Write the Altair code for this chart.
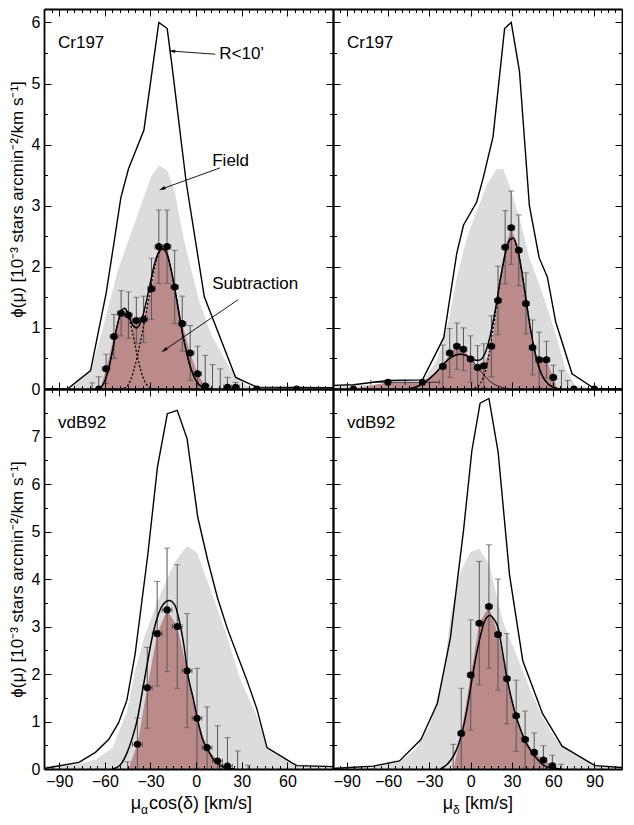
import altair as alt
import pandas as pd

FONT = "Liberation Sans"
W, H = 289, 380
GRAY = "#dcdcdc"
BROWN = "#bb8a8a"
YTITLE = "ϕ(μ) [10⁻³ stars arcmin⁻²/km s⁻¹]"

# ---------- Cr197, mu_alpha cos(delta) (top left) ----------
CA_R_X = [-100, -84.6, -69.4, -59.2, -54.2, -49.5, -44.5, -34.3, -24.5, -19.0, -15.8, -6.5, 5.4, 26.0, 40.0, 90]
CA_R_Y = [0.0, 0.0, 0.30, 1.56, 2.36, 3.13, 3.60, 4.24, 6.00, 5.90, 5.28, 3.38, 1.51, 0.19, 0.03, 0.02]
CA_FIELD_X = [-100, -84.6, -69.4, -62.7, -51.6, -36.4, -29.3, -24.5, -19.0, -14.0, -8.3, -2.9, 2.5, 10.5, 22.4, 33.0, 45.0, 90]
CA_FIELD_Y = [0.0, 0.0, 0.30, 0.86, 1.93, 3.00, 3.49, 3.66, 3.58, 3.22, 2.47, 1.93, 1.40, 0.86, 0.33, 0.06, 0.0, 0.0]
CA_SUB_X = [-63.0, -59.2, -54.0, -49.3, -44.5, -39.3, -34.5, -29.3, -24.5, -19.1, -14.1, -9.1, -3.9, 1.0, 6.0, 8.5]
CA_SUB_Y = [0.0, 0.33, 0.86, 1.24, 1.21, 1.12, 1.14, 1.64, 2.33, 2.33, 1.67, 1.07, 0.59, 0.25, 0.05, 0.0]
CA_PT_X = [-64.0, -59.2, -54.0, -49.3, -44.5, -39.3, -34.5, -29.3, -24.5, -19.1, -14.1, -9.1, -3.9, 1.0, 6.0, 20.6, 26.0, 40.0, 66.0]
CA_PT_Y = [0.0, 0.33, 0.86, 1.24, 1.21, 1.12, 1.14, 1.64, 2.33, 2.33, 1.67, 1.07, 0.59, 0.25, 0.05, 0.03, 0.03, 0.0, 0.0]
CA_PT_ERR = [0.20, 0.24, 0.36, 0.37, 0.38, 0.38, 0.38, 0.50, 0.60, 0.60, 0.60, 0.45, 0.45, 0.45, 0.50, 0.16, 0.08, 0.0, 0.0]
CA_XERR = 2.5
CA_BAR_X = [-68.4, 10.8, 15.9]
CA_BAR_TOP = [0.10, 0.40, 0.33]
CA_FIT_X = [-66, -62, -58, -55, -52, -49, -47, -45, -42, -39, -36, -33, -30, -27, -24, -22, -19, -16, -13, -10, -7, -4, -1, 2, 5, 10]
CA_FIT_Y = [0.0, 0.05, 0.28, 0.62, 1.02, 1.28, 1.32, 1.25, 1.06, 1.0, 1.12, 1.4, 1.75, 2.08, 2.26, 2.29, 2.2, 1.9, 1.5, 1.05, 0.68, 0.38, 0.18, 0.07, 0.02, 0.0]
CA_C1_X = [-66, -62, -58, -55, -52, -49, -47, -45, -42, -39, -36, -33, -30, -27]
CA_C1_Y = [0.0, 0.05, 0.28, 0.62, 1.02, 1.28, 1.32, 1.22, 0.95, 0.58, 0.27, 0.09, 0.02, 0.0]
CA_C2_X = [-50, -46, -43, -40, -37, -34, -31, -28, -25, -22, -19, -16, -13, -10, -7, -4, -1, 2, 5, 10]
CA_C2_Y = [0.0, 0.03, 0.15, 0.40, 0.72, 1.1, 1.5, 1.9, 2.2, 2.29, 2.2, 1.9, 1.5, 1.05, 0.68, 0.38, 0.18, 0.07, 0.02, 0.0]

# annotations of the top left panel
ANN_TEXT = ["R<10’", "Field", "Subtraction"]
ANN_TX = [15.2, 10.6, 10.6]
ANN_TY = [5.48, 3.73, 1.72]
ANN_X1 = [12.6, 15.8, 27.5]
ANN_Y1 = [5.48, 3.62, 1.46]
ANN_X2 = [-15.4, -21.9, -20.6]
ANN_Y2 = [5.53, 3.28, 0.64]
ANN_ANGLE = [274, 247, 235]

# ---------- Cr197, mu_delta (top right) ----------
CD_R_X = [-100, -85.2, -60.1, -35.0, -19.5, -10.0, -5.2, 4.4, 9.2, 16.3, 24.7, 29.5, 35.5, 42.7, 49.8, 55.8, 61.8, 73.7, 90.4, 110]
CD_R_Y = [0.06, 0.07, 0.14, 0.15, 0.84, 2.23, 2.68, 3.06, 3.46, 4.13, 5.90, 6.00, 5.20, 3.00, 2.15, 1.83, 1.10, 0.25, 0.0, 0.0]
CD_FIELD_X = [-100, -60, -35, -25, -19.5, -15.9, -10.0, -2.8, 4.4, 11.6, 18.8, 23.6, 28.4, 35.5, 42.7, 49.8, 57.0, 63.0, 69.0, 76.0, 90, 110]
CD_FIELD_Y = [0.05, 0.08, 0.12, 0.45, 0.82, 1.13, 1.83, 2.47, 2.90, 3.33, 3.60, 3.60, 3.33, 2.79, 2.15, 1.72, 1.24, 0.81, 0.33, 0.06, 0.0, 0.0]
CD_SUB_X = [-100, -85.2, -60.1, -35.0, -20.2, -15.2, -10.0, -5.2, 0.0, 5.1, 9.6, 15.1, 19.9, 25.1, 29.5, 35.0, 40.2, 45.0, 49.8, 55.1, 60.1, 63.0]
CD_SUB_Y = [0.02, 0.0, 0.11, 0.11, 0.37, 0.59, 0.70, 0.65, 0.49, 0.35, 0.38, 0.70, 1.45, 2.32, 2.64, 2.27, 1.40, 0.68, 0.48, 0.48, 0.19, 0.0]
CD_PT_X = [-85.2, -60.1, -35.0, -20.2, -15.2, -10.0, -5.2, 0.0, 5.1, 9.6, 15.1, 19.9, 25.1, 29.5, 35.0, 40.2, 45.0, 49.8, 55.1, 60.1, 75.0, 90.0]
CD_PT_Y = [0.0, 0.11, 0.11, 0.37, 0.59, 0.70, 0.65, 0.49, 0.35, 0.38, 0.70, 1.45, 2.32, 2.64, 2.27, 1.40, 0.68, 0.48, 0.48, 0.19, 0.0, 0.0]
CD_PT_ERR = [0.0, 0.03, 0.03, 0.35, 0.40, 0.38, 0.35, 0.38, 0.36, 0.36, 0.50, 0.56, 0.60, 0.60, 0.58, 0.50, 0.45, 0.45, 0.30, 0.20, 0.0, 0.0]
CD_XERR = [12.5, 12.5, 12.5, 2.5, 2.5, 2.5, 2.5, 2.5, 2.5, 2.5, 2.5, 2.5, 2.5, 2.5, 2.5, 2.5, 2.5, 2.5, 2.5, 2.5, 2.5, 2.5]
CD_BAR_X = [66.0, 70.5]
CD_BAR_TOP = [0.30, 0.14]
CD_FIT_X = [-45, -38, -32, -26, -20, -14, -8, -3, 2, 6, 10, 14, 18, 22, 26, 29, 31, 34, 37, 40, 43, 46, 49, 52, 56, 60, 65]
CD_FIT_Y = [0.0, 0.05, 0.13, 0.25, 0.4, 0.52, 0.57, 0.55, 0.48, 0.47, 0.56, 0.85, 1.3, 1.85, 2.3, 2.46, 2.47, 2.3, 1.95, 1.5, 1.05, 0.68, 0.4, 0.22, 0.09, 0.03, 0.0]
CD_C1_X = [-45, -38, -32, -26, -20, -14, -8, -3, 2, 7, 12, 17, 22, 27]
CD_C1_Y = [0.0, 0.05, 0.13, 0.25, 0.4, 0.52, 0.57, 0.54, 0.44, 0.3, 0.17, 0.08, 0.03, 0.0]
CD_C2_X = [0, 5, 9, 12, 15, 18, 22, 26, 29, 31, 34, 37, 40, 43, 46, 49, 52, 56, 60, 65]
CD_C2_Y = [0.0, 0.04, 0.18, 0.4, 0.8, 1.22, 1.83, 2.28, 2.45, 2.46, 2.3, 1.95, 1.5, 1.05, 0.68, 0.4, 0.22, 0.09, 0.03, 0.0]

# ---------- vdB92, mu_alpha cos(delta) (bottom left) ----------
VA_R_X = [-100, -77, -66.2, -57.5, -51, -45.5, -40.1, -31.8, -25.4, -18.9, -12.4, -5.9, 1.1, 7.6, 14.1, 20.6, 27.1, 33.6, 40.1, 46.6, 66.1, 90]
VA_R_Y = [0.01, 0.14, 0.35, 0.62, 0.97, 1.45, 2.42, 4.50, 6.36, 7.48, 7.55, 6.95, 5.3, 4.4, 3.6, 2.95, 2.4, 1.85, 1.25, 0.45, 0.07, 0.05]
VA_FIELD_X = [-100, -77, -66, -55, -45.5, -40.1, -33.6, -22.8, -14.1, -5.9, 0.6, 7.6, 18.5, 29.3, 40.1, 46.6, 63.9, 90]
VA_FIELD_Y = [0.07, 0.1, 0.2, 0.45, 1.2, 2.07, 2.83, 3.73, 4.35, 4.70, 4.56, 3.94, 2.97, 1.87, 1.10, 0.45, 0.10, 0.07]
VA_SUB_X = [-44.5, -38.6, -32.1, -25.6, -19.1, -12.4, -5.9, 0.6, 7.2, 14.1, 20.6, 24.0]
VA_SUB_Y = [0.0, 0.52, 1.71, 2.85, 3.35, 3.0, 2.07, 1.07, 0.45, 0.17, 0.06, 0.0]
VA_PT_X = [-38.6, -32.1, -25.6, -19.1, -12.4, -5.9, 0.6, 7.2, 14.1, 20.6]
VA_PT_Y = [0.52, 1.71, 2.85, 3.35, 3.00, 2.07, 1.07, 0.45, 0.17, 0.06]
VA_PT_ERR = [0.55, 0.85, 1.10, 1.30, 1.30, 1.20, 1.05, 0.86, 0.74, 0.60]
VA_XERR = 3.2
VA_BAR_X = [-45.0, 27.3, 34.2]
VA_BAR_TOP = [0.15, 0.38, 0.08]
VA_FIT_X = [-55, -50, -45.3, -42, -38.7, -35.5, -32.2, -29, -25.6, -22, -17.7, -14, -10.9, -8, -5.5, -2, 1.0, 4, 7.6, 12, 16.2, 20, 25]
VA_FIT_Y = [0.0, 0.08, 0.35, 0.65, 1.04, 1.6, 2.2, 2.75, 3.18, 3.45, 3.55, 3.45, 3.1, 2.6, 2.0, 1.5, 1.04, 0.65, 0.41, 0.18, 0.07, 0.02, 0.0]

# ---------- vdB92, mu_delta (bottom right) ----------
VD_R_X = [-100, -70.8, -51.7, -36.1, -24.2, -14.7, -5.1, 0.9, 6.9, 13.3, 20.0, 28.3, 37.9, 52.2, 66.5, 90.4, 110]
VD_R_Y = [0.01, 0.06, 0.17, 0.62, 1.38, 2.76, 5.04, 6.70, 7.70, 7.80, 6.67, 4.08, 2.28, 1.17, 0.48, 0.07, 0.03]
VD_FIELD_X = [-100, -70, -51.7, -40, -30, -20, -14.7, -7.5, -0.4, 6.3, 13.8, 23.4, 33.0, 42.5, 52.2, 61.7, 72.5, 90.4, 110]
VD_FIELD_Y = [0.05, 0.05, 0.15, 0.42, 0.9, 1.9, 3.2, 4.15, 4.56, 4.64, 4.28, 3.11, 2.42, 1.73, 1.10, 0.62, 0.35, 0.07, 0.03]
VD_SUB_X = [-12.5, -6.8, 0.1, 6.3, 13.3, 19.9, 26.4, 33.1, 39.6, 46.2, 52.9, 59.4, 64.0]
VD_SUB_Y = [0.0, 0.75, 1.98, 3.07, 3.42, 2.83, 1.90, 1.12, 0.62, 0.35, 0.19, 0.07, 0.0]
VD_PT_X = [-6.8, 0.1, 6.3, 13.3, 19.9, 26.4, 33.1, 39.6, 46.2, 52.9, 59.4]
VD_PT_Y = [0.75, 1.98, 3.07, 3.42, 2.83, 1.90, 1.12, 0.62, 0.35, 0.19, 0.07]
VD_PT_ERR = [0.95, 1.16, 1.30, 1.30, 1.17, 0.95, 0.75, 0.60, 0.41, 0.30, 0.22]
VD_XERR = 2.5
VD_BAR_X = [-12.7, 65.9]
VD_BAR_TOP = [0.52, 0.10]
VD_FIT_X = [-22, -17, -12.3, -9, -6.3, -3, 0.1, 3.5, 6.8, 10, 13.9, 17, 20, 23, 25.9, 29.5, 33.1, 36.7, 40.3, 44, 47.4, 52, 57, 66.5]
VD_FIT_Y = [0.0, 0.1, 0.28, 0.5, 0.76, 1.2, 1.73, 2.3, 2.76, 3.1, 3.23, 3.15, 2.97, 2.5, 2.0, 1.5, 1.1, 0.8, 0.55, 0.37, 0.24, 0.1, 0.03, 0.0]

# x titles with a subscript: (symbol, subscript, rest, left edge of the rest in px)
XA = ("μ", "α", "cos(δ) [km/s]", 105)
XD = ("μ", "δ", "[km/s]", 132)


def ax(orient, values, size, labels=False, title=None):
    # ticks point inwards: the axis is moved into the plot by its tick length
    opts = dict(orient=orient, values=values, tickSize=size, offset=-size,
                tickColor="black", tickWidth=1, domain=False, grid=False,
                labels=labels, title=title, zindex=2)
    if labels:
        opts.update(labelFont=FONT, labelFontSize=16, labelColor="black",
                    labelPadding=4, format="d", labelOverlap=False)
    if title:
        opts.update(titleFont=FONT, titleFontSize=17, titleFontWeight="normal",
                    titleColor="black", titlePadding=5)
    return alt.Axis(**opts)


def frame(orient):
    return alt.Axis(orient=orient, domain=True, domainColor="black", domainWidth=1.8,
                    ticks=False, labels=False, grid=False, title=None, zindex=3)


def xy(df_x, df_y):
    return pd.DataFrame({"x": df_x, "y": df_y})


def label(text, px, py, size=17, align="left"):
    return alt.Chart(pd.DataFrame({"t": [text]})).mark_text(
        align=align, baseline="alphabetic", font=FONT, fontSize=size, color="black").encode(
        text="t:N", x=alt.value(px), y=alt.value(py))


def panel(name, xdom, ydom, ymax_label, show_x, show_y, xtitle,
          r, field, sub, pts, bars, fit, dotted=(), thin=None, ann=False):
    xs = alt.Scale(domain=xdom, nice=False, zero=False)
    ys = alt.Scale(domain=ydom, nice=False, zero=False)
    xmaj = [v for v in range(-90, 91, 30) if xdom[0] < v < xdom[1]]
    xmin = [v for v in range(-95, 110, 5) if xdom[0] < v < xdom[1] and v % 30]
    ymaj = list(range(0, ymax_label + 1))
    ymin = [k / 2 for k in range(1, int(ydom[1] * 2), 2)]

    def X(field_name="x", axis=None):
        return alt.X(f"{field_name}:Q", scale=xs, axis=axis)

    def Y(field_name="y", axis=None):
        return alt.Y(f"{field_name}:Q", scale=ys, axis=axis)

    field_l = alt.Chart(xy(*field)).mark_area(color=GRAY, clip=True).encode(
        x=X(axis=ax("bottom", xmaj, 7, show_x)),
        y=Y(axis=ax("left", ymaj, 7, show_y, YTITLE if show_y else None)))
    sub_l = alt.Chart(xy(*sub)).mark_area(color=BROWN, clip=True).encode(
        x=X(axis=ax("bottom", xmin, 3.5)), y=Y(axis=ax("left", ymin, 3.5)))

    px, py, perr, pxerr = pts
    if not isinstance(pxerr, list):
        pxerr = [pxerr] * len(px)
    p = pd.DataFrame({"x": px, "y": py, "e": perr, "xe": pxerr})
    p["lo"] = p["y"] - p["e"]
    p["hi"] = p["y"] + p["e"]
    p["xlo"] = p["x"] - p["xe"]
    p["xhi"] = p["x"] + p["xe"]
    b = pd.DataFrame({"x": bars[0], "hi": bars[1]})
    b["lo"] = -b["hi"]
    ebar = pd.concat([p[p["e"] > 0][["x", "lo", "hi"]], b], ignore_index=True)
    caps = pd.concat([ebar[["x"]].assign(v=ebar["lo"]), ebar[["x"]].assign(v=ebar["hi"])])
    xbar = p[p["y"] > 0]
    xcaps = pd.concat([xbar[["y"]].assign(x=xbar["xlo"]), xbar[["y"]].assign(x=xbar["xhi"])])

    ebar_l = alt.Chart(ebar).mark_rule(color="#555555", strokeWidth=1, clip=True).encode(
        x=X(axis=frame("top")), y=Y("lo", axis=frame("right")), y2="hi:Q")
    caps_l = alt.Chart(caps).mark_tick(orient="horizontal", size=6, thickness=1,
                                       color="#555555", clip=True).encode(x=X(), y=Y("v"))
    xbar_l = alt.Chart(xbar).mark_rule(color="#333333", strokeWidth=1, clip=True).encode(
        x=X("xlo"), x2="xhi:Q", y=Y())
    xcaps_l = alt.Chart(xcaps).mark_tick(orient="vertical", size=5, thickness=1,
                                         color="#333333", clip=True).encode(x=X(), y=Y())

    r_l = alt.Chart(xy(*r)).mark_line(color="black", strokeWidth=1.4, clip=True).encode(
        x=X(axis=ax("top", xmaj, 7)), y=Y(axis=ax("right", ymaj, 7)))
    fit_l = alt.Chart(xy(*fit)).mark_line(color="black", strokeWidth=1.5, interpolate="monotone",
                                          clip=True).encode(
        x=X(axis=ax("top", xmin, 3.5)), y=Y(axis=ax("right", ymin, 3.5)))
    pts_l = alt.Chart(p).mark_circle(size=50, color="black", opacity=1, clip=True).encode(
        x=X(axis=frame("bottom")), y=Y(axis=frame("left")))

    layers = [field_l, sub_l, ebar_l, caps_l, xbar_l, xcaps_l, r_l]
    for cx, cy in dotted:
        layers.append(alt.Chart(xy(cx, cy)).mark_line(
            color="black", strokeWidth=1.3, strokeDash=[2, 2], interpolate="monotone",
            clip=True).encode(x=X(), y=Y()))
    if thin is not None:
        layers.append(alt.Chart(xy(*thin)).mark_line(
            color="black", strokeWidth=0.8, interpolate="monotone", clip=True).encode(x=X(), y=Y()))
    layers += [fit_l, pts_l]

    layers.append(label(name, 14, 39))

    if show_x:
        sym, subs, rest, x0 = xtitle
        sub_right = x0 - 4 if rest.startswith("[") else x0
        layers += [label(sym, sub_right - 8, H + 40, 18, "right"),
                   label(subs, sub_right - 8, H + 45, 12),
                   label(rest, x0, H + 40, 18)]

    if ann:
        a = pd.DataFrame({"t": ANN_TEXT, "tx": ANN_TX, "ty": ANN_TY, "x1": ANN_X1, "y1": ANN_Y1,
                          "x2": ANN_X2, "y2": ANN_Y2, "ang": ANN_ANGLE})
        layers.append(alt.Chart(a).mark_text(align="left", baseline="middle", font=FONT,
                                             fontSize=17, color="black").encode(
            x=X("tx"), y=Y("ty"), text="t:N"))
        layers.append(alt.Chart(a).mark_rule(color="black", strokeWidth=0.9).encode(
            x=X("x1"), y=Y("y1"), x2="x2:Q", y2="y2:Q"))
        layers.append(alt.Chart(a).mark_point(shape="M0,-1L0.4,0.6L-0.4,0.6Z", filled=True,
                                              size=70, color="black", opacity=1).encode(
            x=X("x2"), y=Y("y2"), angle=alt.Angle("ang:Q", scale=None)))

    return alt.layer(*layers).resolve_axis(x="independent", y="independent").properties(
        width=W, height=H)


tl = panel("Cr197", [-100, 90], [0, 6.22], 6, False, True, XA,
           (CA_R_X, CA_R_Y), (CA_FIELD_X, CA_FIELD_Y), (CA_SUB_X, CA_SUB_Y),
           (CA_PT_X, CA_PT_Y, CA_PT_ERR, CA_XERR), (CA_BAR_X, CA_BAR_TOP),
           (CA_FIT_X, CA_FIT_Y), dotted=[(CA_C1_X, CA_C1_Y), (CA_C2_X, CA_C2_Y)], ann=True)
tr = panel("Cr197", [-100, 110], [0, 6.22], 6, False, False, XD,
           (CD_R_X, CD_R_Y), (CD_FIELD_X, CD_FIELD_Y), (CD_SUB_X, CD_SUB_Y),
           (CD_PT_X, CD_PT_Y, CD_PT_ERR, CD_XERR), (CD_BAR_X, CD_BAR_TOP),
           (CD_FIT_X, CD_FIT_Y), dotted=[(CD_C2_X, CD_C2_Y)], thin=(CD_C1_X, CD_C1_Y))
bl = panel("vdB92", [-100, 90], [0, 8], 7, True, True, XA,
           (VA_R_X, VA_R_Y), (VA_FIELD_X, VA_FIELD_Y), (VA_SUB_X, VA_SUB_Y),
           (VA_PT_X, VA_PT_Y, VA_PT_ERR, VA_XERR), (VA_BAR_X, VA_BAR_TOP),
           (VA_FIT_X, VA_FIT_Y))
br = panel("vdB92", [-100, 110], [0, 8], 7, True, False, XD,
           (VD_R_X, VD_R_Y), (VD_FIELD_X, VD_FIELD_Y), (VD_SUB_X, VD_SUB_Y),
           (VD_PT_X, VD_PT_Y, VD_PT_ERR, VD_XERR), (VD_BAR_X, VD_BAR_TOP),
           (VD_FIT_X, VD_FIT_Y))

chart = alt.concat(tl, tr, bl, br, columns=2, spacing=0, bounds="flush").resolve_scale(
    x="independent", y="independent").properties(
    padding={"left": 0, "top": 0, "right": 0, "bottom": 0}
).configure_view(stroke=None)

chart.save("out.html", embed_options={"renderer": "svg", "actions": False})
